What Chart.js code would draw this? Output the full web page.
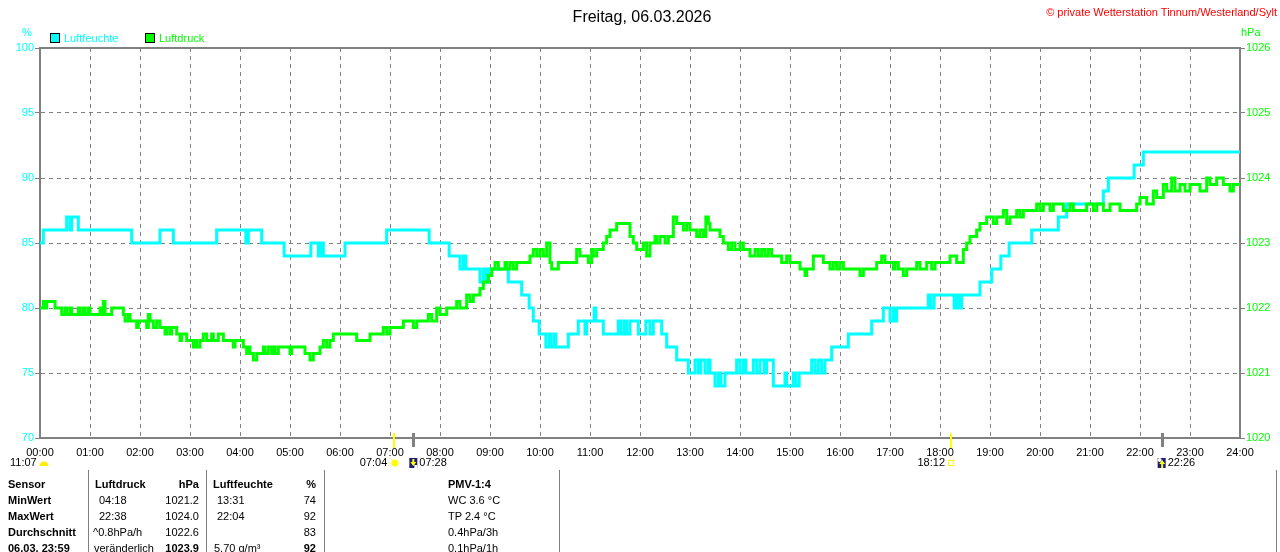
<!DOCTYPE html>
<html>
<head>
<meta charset="utf-8">
<script src="https://cdn.jsdelivr.net/npm/chart.js@4.4.1/dist/chart.umd.min.js"></script>
<style>
  html,body{margin:0;padding:0;background:#fff;}
  #wrap{position:relative;width:1280px;height:552px;overflow:hidden;font-family:"Liberation Sans",Arial,sans-serif;font-size:11px;}
  #c{position:absolute;left:0;top:0;}
  .t{position:absolute;white-space:nowrap;line-height:14px;height:14px;}
  .b{font-weight:bold;}
  .r{text-align:right;}
  .vl{position:absolute;width:1px;background:#808080;top:470px;height:82px;}
  .sq{position:absolute;width:8px;height:8px;border:1px solid #000;}
</style>
</head>
<body>
<div id="wrap">
  <canvas id="c" width="1280" height="552"></canvas>

  <div class="t" style="left:0;width:1284px;top:8px;text-align:center;font-size:16px;line-height:18px;height:18px;color:#000;">Freitag, 06.03.2026</div>
  <div class="t r" style="right:3px;top:5px;color:#ff0000;">© private Wetterstation Tinnum/Westerland/Sylt</div>

  <div class="t" style="left:22px;top:25px;color:#00ffff;">%</div>
  <div class="t" style="left:1241px;top:25px;color:#00ff00;">hPa</div>

  <div class="sq" style="left:50px;top:33px;background:#00ffff;"></div>
  <div class="t" style="left:64px;top:31px;color:#00ffff;">Luftfeuchte</div>
  <div class="sq" style="left:145px;top:33px;background:#00ff00;"></div>
  <div class="t" style="left:159px;top:31px;color:#00ff00;">Luftdruck</div>

  <div class="vl" style="left:88px;"></div>
  <div class="vl" style="left:206px;"></div>
  <div class="vl" style="left:324px;"></div>
  <div class="vl" style="left:559px;"></div>
  <div class="vl" style="left:1276px;"></div>

  <div class="t b" style="left:8px;top:477px;">Sensor</div>
  <div class="t b" style="left:95px;top:477px;">Luftdruck</div>
  <div class="t b r" style="left:150px;width:49px;top:477px;">hPa</div>
  <div class="t b" style="left:213px;top:477px;">Luftfeuchte</div>
  <div class="t b r" style="left:280px;width:36px;top:477px;">%</div>
  <div class="t b" style="left:448px;top:477px;">PMV-1:4</div>

  <div class="t b" style="left:8px;top:493px;">MinWert</div>
  <div class="t" style="left:99px;top:493px;">04:18</div>
  <div class="t r" style="left:150px;width:49px;top:493px;">1021.2</div>
  <div class="t" style="left:217px;top:493px;">13:31</div>
  <div class="t r" style="left:280px;width:36px;top:493px;">74</div>
  <div class="t" style="left:448px;top:493px;">WC 3.6 °C</div>

  <div class="t b" style="left:8px;top:509px;">MaxWert</div>
  <div class="t" style="left:99px;top:509px;">22:38</div>
  <div class="t r" style="left:150px;width:49px;top:509px;">1024.0</div>
  <div class="t" style="left:217px;top:509px;">22:04</div>
  <div class="t r" style="left:280px;width:36px;top:509px;">92</div>
  <div class="t" style="left:448px;top:509px;">TP 2.4 °C</div>

  <div class="t b" style="left:8px;top:525px;">Durchschnitt</div>
  <div class="t" style="left:93px;top:525px;">^0.8hPa/h</div>
  <div class="t r" style="left:150px;width:49px;top:525px;">1022.6</div>
  <div class="t r" style="left:280px;width:36px;top:525px;">83</div>
  <div class="t" style="left:448px;top:525px;">0.4hPa/3h</div>

  <div class="t b" style="left:8px;top:541px;">06.03. 23:59</div>
  <div class="t" style="left:94px;top:541px;">veränderlich</div>
  <div class="t b r" style="left:150px;width:49px;top:541px;">1023.9</div>
  <div class="t" style="left:214px;top:541px;">5.70 g/m³</div>
  <div class="t b r" style="left:280px;width:36px;top:541px;">92</div>
  <div class="t" style="left:448px;top:541px;">0.1hPa/1h</div>
</div>

<script>
// ---- data (time in minutes since 00:00) ----
const humTimes = [0,4,32,36,38,46,110,144,160,212,247,250,266,293,325,334,337,340,366,416,467,491,504,508,511,528,532,535,538,562,578,587,592,599,607,611,613,617,619,634,646,654,656,665,667,676,694,697,701,704,708,718,727,732,736,746,752,764,778,786,790,793,798,802,804,810,814,817,822,836,840,844,847,856,860,864,869,872,880,894,896,904,907,911,926,930,934,938,942,950,970,998,1012,1020,1024,1026,1028,1066,1069,1073,1097,1100,1103,1106,1128,1142,1153,1163,1190,1222,1232,1276,1282,1313,1324,1440];
const humValues = [85,86,87,86,87,86,85,86,85,86,85,86,85,84,85,84,85,84,85,86,85,84,83,84,83,82,83,82,83,82,81,80,79,78,77,78,77,78,77,78,79,78,79,80,79,78,79,78,79,78,79,78,79,78,79,78,77,76,75,76,75,76,75,76,75,74,75,74,75,76,75,76,75,76,75,76,75,76,74,75,74,75,74,75,76,75,76,75,76,77,78,79,80,79,80,79,80,81,80,81,80,81,80,81,82,83,84,85,86,87,88,89,90,91,92,92];

const presTimes = [
  0,4,6,8,14,18,20,26,30,32,
  36,38,42,46,48,52,54,58,60,66,
  72,74,76,78,80,86,100,102,106,108,
  112,116,118,124,128,130,132,136,140,144,
  150,152,156,158,162,164,166,168,170,176,
  180,184,186,188,192,196,200,206,208,214,
  220,232,234,244,248,250,252,256,260,264,
  268,270,274,278,280,282,286,292,300,302,
  310,318,324,328,334,336,340,344,348,352,
  360,380,396,404,412,416,420,432,436,442,
  448,452,456,466,470,476,480,488,492,500,
  504,512,516,520,528,532,538,542,546,550,
  554,558,560,564,568,572,576,588,592,596,
  600,604,608,612,614,618,622,644,648,652,
  658,662,664,668,676,680,684,692,700,708,
  712,716,724,728,732,738,740,744,750,754,
  760,764,768,772,776,780,788,792,796,799,
  802,804,816,820,826,830,834,840,844,852,
  858,862,866,870,874,878,884,890,896,900,
  912,918,920,928,940,948,952,956,960,964,
  976,984,988,996,1004,1010,1014,1024,1026,1030,
  1036,1040,1044,1052,1056,1064,1070,1074,1092,1100,
  1108,1112,1116,1124,1128,1136,1144,1148,1156,1160,
  1164,1172,1176,1180,1188,1196,1200,1204,1212,1216,
  1228,1236,1240,1256,1264,1268,1276,1284,1296,1304,
  1316,1320,1328,1336,1340,1348,1352,1358,1362,1368,
  1374,1380,1392,1400,1404,1412,1420,1428,1432,1440];
const presValues = [
  1022.0,1022.1,1022.0,1022.1,1022.1,1022.0,1022.0,1021.9,1022.0,1021.9,
  1022.0,1021.9,1021.9,1022.0,1021.9,1022.0,1021.9,1022.0,1021.9,1021.9,
  1022.0,1021.9,1022.1,1021.9,1021.9,1022.0,1021.9,1021.8,1021.9,1021.8,
  1021.8,1021.7,1021.8,1021.8,1021.7,1021.9,1021.8,1021.7,1021.8,1021.7,
  1021.6,1021.7,1021.6,1021.7,1021.7,1021.6,1021.6,1021.5,1021.6,1021.5,
  1021.5,1021.4,1021.5,1021.4,1021.5,1021.6,1021.5,1021.6,1021.5,1021.6,
  1021.5,1021.4,1021.5,1021.4,1021.3,1021.4,1021.3,1021.2,1021.3,1021.3,
  1021.4,1021.3,1021.4,1021.3,1021.4,1021.3,1021.4,1021.4,1021.3,1021.4,
  1021.4,1021.3,1021.2,1021.3,1021.3,1021.4,1021.5,1021.4,1021.5,1021.6,
  1021.6,1021.5,1021.6,1021.6,1021.7,1021.6,1021.7,1021.7,1021.8,1021.8,
  1021.7,1021.8,1021.8,1021.9,1021.8,1022.0,1021.9,1022.0,1022.0,1022.1,
  1022.0,1022.2,1022.1,1022.2,1022.3,1022.4,1022.5,1022.6,1022.7,1022.6,
  1022.6,1022.7,1022.6,1022.7,1022.6,1022.7,1022.7,1022.8,1022.9,1022.8,
  1022.9,1022.8,1023.0,1022.7,1022.6,1022.6,1022.7,1022.9,1022.8,1022.8,
  1022.7,1022.9,1022.8,1022.9,1023.0,1023.1,1023.2,1023.3,1023.3,1023.1,
  1023.0,1022.9,1023.0,1022.8,1023.0,1023.1,1023.0,1023.1,1023.0,1023.1,
  1023.4,1023.3,1023.3,1023.2,1023.3,1023.2,1023.1,1023.2,1023.1,1023.4,
  1023.3,1023.2,1023.1,1023.0,1022.9,1023.0,1022.9,1023.0,1022.9,1022.8,
  1022.9,1022.8,1022.9,1022.8,1022.9,1022.8,1022.8,1022.7,1022.8,1022.7,
  1022.6,1022.5,1022.6,1022.8,1022.7,1022.6,1022.7,1022.6,1022.7,1022.6,
  1022.6,1022.5,1022.6,1022.6,1022.7,1022.8,1022.7,1022.6,1022.7,1022.6,
  1022.5,1022.6,1022.6,1022.7,1022.6,1022.7,1022.6,1022.7,1022.8,1022.7,
  1022.9,1023.0,1023.1,1023.2,1023.3,1023.4,1023.3,1023.4,1023.5,1023.3,
  1023.4,1023.5,1023.4,1023.5,1023.5,1023.6,1023.5,1023.6,1023.5,1023.6,
  1023.5,1023.6,1023.5,1023.6,1023.5,1023.6,1023.5,1023.6,1023.5,1023.5,
  1023.6,1023.7,1023.6,1023.8,1023.7,1023.9,1023.8,1024.0,1023.8,1023.9,
  1023.8,1023.9,1023.8,1024.0,1023.9,1024.0,1023.9,1023.8,1023.9,1023.9];

const humTicks = [70, 100, 5];      // min, max, step
const presTicks = [1020, 1026, 1];
// sun / moon events (minutes)
const sunrise = 424, sunset = 1092, moonrise = 448, moonset = 1346;
const sunriseLabel = '07:04', sunsetLabel = '18:12', moonriseLabel = '07:28', moonsetLabel = '22:26';
const dayLengthLabel = '11:07';

const FONT = '"Liberation Sans", Arial, sans-serif';
function hhmm(v){const h=Math.floor(v/60),m=Math.round(v%60);return String(h).padStart(2,'0')+':'+String(m).padStart(2,'0');}

const framePlugin = {
  id:'frame',
  afterDraw(chart){
    const {ctx, chartArea:a, scales:{x}} = chart;
    ctx.save();
    ctx.strokeStyle='#808080'; ctx.lineWidth=2;
    ctx.beginPath(); ctx.moveTo(a.left-1,a.top); ctx.lineTo(a.right+1,a.top); ctx.stroke();
    const xs = x.getPixelForValue(sunrise), xe = x.getPixelForValue(sunset);
    const xmr = x.getPixelForValue(moonrise), xms = x.getPixelForValue(moonset);
    ctx.strokeStyle='#ffff00'; ctx.lineWidth=2;
    [xs,xe].forEach(px=>{ctx.beginPath();ctx.moveTo(Math.round(px)+1,a.bottom-5);ctx.lineTo(Math.round(px)+1,a.bottom+10);ctx.stroke();});
    ctx.strokeStyle='#808080'; ctx.lineWidth=3;
    [xmr,xms].forEach(px=>{ctx.beginPath();ctx.moveTo(Math.round(px)+0.5,a.bottom-5);ctx.lineTo(Math.round(px)+0.5,a.bottom+9);ctx.stroke();});
    ctx.font='11px '+FONT; ctx.fillStyle='#000'; ctx.textBaseline='middle';
    const ty = 463;
    ctx.textAlign='left'; ctx.fillText(dayLengthLabel, 10, ty);
    ctx.fillStyle='#ffee00'; ctx.beginPath(); ctx.arc(44, ty+3, 4.5, Math.PI, 0); ctx.closePath(); ctx.fill();
    ctx.fillStyle='#000'; ctx.textAlign='right'; ctx.fillText(sunriseLabel, xs-6, ty);
    ctx.fillStyle='#ffff00'; ctx.beginPath(); ctx.arc(xs+1.5, ty, 3.5, 0, Math.PI*2); ctx.fill();
    ctx.strokeStyle='#ffff99'; ctx.lineWidth=1;
    for(let k=0;k<8;k++){const an=k*Math.PI/4;ctx.beginPath();ctx.moveTo(xs+1.5+Math.cos(an)*4.5,ty+Math.sin(an)*4.5);ctx.lineTo(xs+1.5+Math.cos(an)*6,ty+Math.sin(an)*6);ctx.stroke();}
    ctx.fillStyle='#1a1a80'; ctx.fillRect(xmr-4, ty-5, 8, 10);
    ctx.fillStyle='#ffff00'; ctx.fillRect(xmr-1, ty-4, 2, 6);
    ctx.beginPath(); ctx.moveTo(xmr-3,ty-1); ctx.lineTo(xmr+3,ty-1); ctx.lineTo(xmr,ty+3); ctx.closePath(); ctx.fill();
    ctx.fillStyle='#ffffff'; ctx.fillRect(xmr+1, ty+2, 3, 3);
    ctx.fillStyle='#000'; ctx.textAlign='left'; ctx.fillText(moonriseLabel, xmr+6, ty);
    ctx.textAlign='right'; ctx.fillText(sunsetLabel, xe-5, ty);
    ctx.strokeStyle='#ffff00'; ctx.lineWidth=1; ctx.strokeRect(Math.round(xe)-1.5, ty-2.5, 5, 5);
    ctx.fillStyle='#1a1a80'; ctx.fillRect(xms-4, ty-5, 8, 10);
    ctx.fillStyle='#ffffff'; ctx.beginPath(); ctx.arc(xms-2, ty-3, 2, 0, Math.PI*2); ctx.fill();
    ctx.fillStyle='#ffff00'; ctx.fillRect(xms-0.5, ty-1, 2, 6);
    ctx.beginPath(); ctx.moveTo(xms-2.5,ty+1); ctx.lineTo(xms+3.5,ty+1); ctx.lineTo(xms+0.5,ty-3); ctx.closePath(); ctx.fill();
    ctx.fillStyle='#000'; ctx.textAlign='left'; ctx.fillText(moonsetLabel, xms+6, ty);
    ctx.restore();
  }
};

new Chart(document.getElementById('c'), {
  type:'line',
  data:{datasets:[
    {label:'Luftdruck', data:presTimes.map((t,i)=>({x:t,y:presValues[i]})), yAxisID:'pres',
     borderColor:'#00ff00', borderWidth:3, pointRadius:0, stepped:true, fill:false},
    {label:'Luftfeuchte', data:humTimes.map((t,i)=>({x:t,y:humValues[i]})), yAxisID:'hum',
     borderColor:'#00ffff', borderWidth:3, pointRadius:0, stepped:true, fill:false}
  ]},
  options:{
    responsive:false, animation:false, devicePixelRatio:1,
    layout:{padding:{top:48,left:0,right:0,bottom:0}},
    plugins:{legend:{display:false}, title:{display:false}, tooltip:{enabled:false}},
    scales:{
      x:{type:'linear', min:0, max:1440, position:'bottom',
         afterFit(s){s.height=114;},
         ticks:{stepSize:60, autoSkip:false, maxRotation:0, color:'#000', padding:8,
                font:{family:FONT,size:11}, callback:v=>hhmm(v)},
         grid:{color:'#808080', lineWidth:1, drawTicks:false},
         border:{color:'#808080', width:2, dash:[4,4]}},
      hum:{type:'linear', position:'left', min:humTicks[0], max:humTicks[1],
         afterFit(s){s.width=40;},
         ticks:{stepSize:humTicks[2], color:'#00ffff', padding:1, font:{family:FONT,size:11}, callback:v=>String(v)},
         grid:{color:'#808080', lineWidth:1, tickLength:5, tickColor:'#808080', tickBorderDash:[], tickWidth:1},
         border:{color:'#808080', width:2, dash:[4,4]}},
      pres:{type:'linear', position:'right', min:presTicks[0], max:presTicks[1],
         afterFit(s){s.width=40;},
         ticks:{stepSize:presTicks[2], color:'#00ff00', padding:1, font:{family:FONT,size:11}, callback:v=>String(v)},
         grid:{drawOnChartArea:false, tickLength:5, tickColor:'#808080', tickBorderDash:[], tickWidth:1},
         border:{color:'#808080', width:2}}
    }
  },
  plugins:[framePlugin]
});
</script>
</body>
</html>
